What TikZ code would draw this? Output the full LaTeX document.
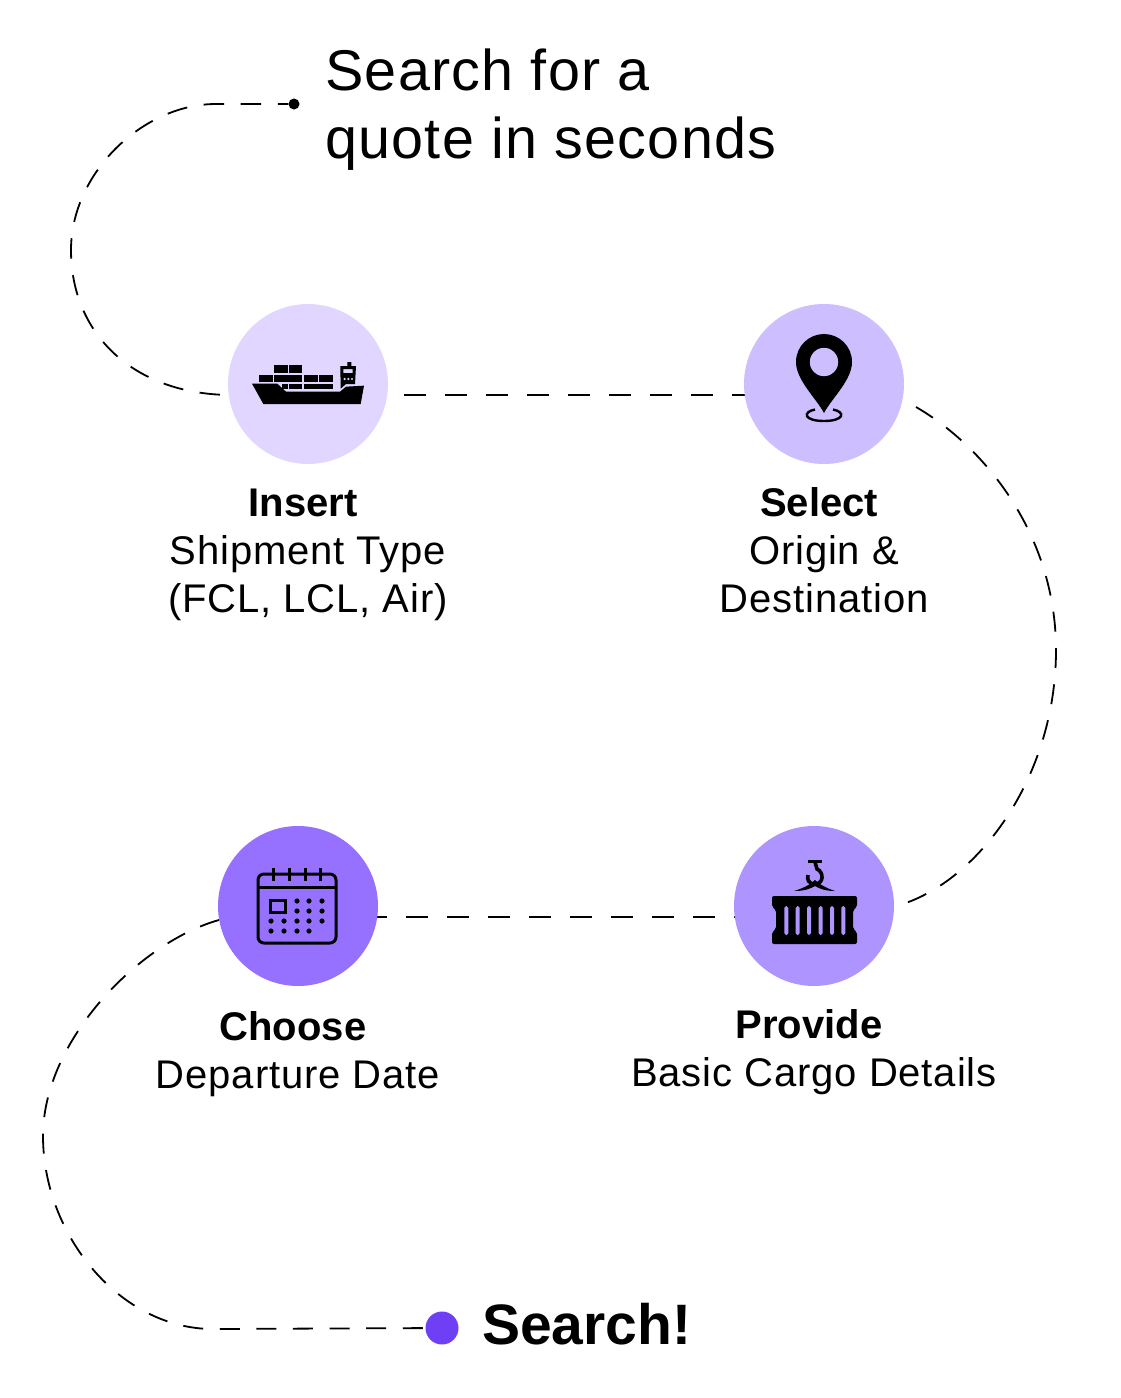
\documentclass[tikz,border=0pt]{standalone}
\usepackage{fontspec}
\setmainfont[LetterSpace=2.2,BoldFeatures={LetterSpace=0}]{Liberation Sans}
\usepackage{tikz}
\usetikzlibrary{positioning}
\definecolor{pale}{HTML}{E0D6FF}
\definecolor{soft}{HTML}{CDBEFF}
\definecolor{midv}{HTML}{AE94FF}
\definecolor{deep}{HTML}{9670FF}
\definecolor{endv}{HTML}{6F3FF5}
\tikzset{
  stepdisc/.style={circle,minimum size=160pt,inner sep=0pt},
  steptext/.style={align=center,anchor=base,font=\fontsize{40}{48}\selectfont,inner sep=0pt},
  trail/.style={line width=1.8pt,dash pattern=on 22pt off 19pt},
  curvetrail/.style={line width=1.8pt,dash pattern=on 20pt off 16.6pt},
}
\newcommand{\boldline}[1]{\textbf{#1}\hspace*{10pt}}

\begin{document}
\begin{tikzpicture}[x=1pt,y=-1pt]
    \useasboundingbox (0,0) rectangle (1120,1398);
    \node[circle,fill=black,minimum size=11pt,inner sep=0pt] (start) at (294,104) {};
    \node[circle,fill=endv,minimum size=33pt,inner sep=0pt] (finish) at (442,1328) {};
    \coordinate (insert_in)  at (232,395);
    \coordinate (insert_out) at (404,395);
    \coordinate (select_in)  at (760,395);
    \coordinate (select_out) at (916,407);
    \coordinate (provide_in) at (896,906);
    \coordinate (provide_out) at (756,917);
    \coordinate (choose_in)  at (365,917);
    \coordinate (choose_out) at (219,920);
    % trail
    \draw[curvetrail,dash pattern=on 20.5pt off 16.6pt,dash phase=10pt] (start) -- (216,104) .. controls (143,104) and (71,173) .. (71,250)
      .. controls (71,335) and (135,395) .. (insert_in);
    \draw[trail] (insert_out) -- (select_in);
    \draw[curvetrail,dash pattern=on 20pt off 16.4pt] (select_out) .. controls (985,447) and (1056,535) .. (1056,650)
      .. controls (1056,780) and (975,885) .. (provide_in);
    \draw[trail] (choose_in) -- (provide_out);
    \draw[curvetrail] (choose_out) .. controls (140,942) and (43,1040) .. (43,1136)
      .. controls (43,1235) and (120,1329) .. (213,1329) -- (finish);
    % steps
    \node[stepdisc,fill=pale] (insert)  at (308,384) {};
    \node[stepdisc,fill=soft] (select)  at (824,384) {};
    \node[stepdisc,fill=midv] (provide) at (814,906) {};
    \node[stepdisc,fill=deep] (choose)  at (298,906) {};
    % ship
    \begin{scope}[shift={(220,300)}]
      \fill (96/3,251/3) -- (172/3,251/3) -- (198/3,275/3) -- (360/3,275/3) -- (378/3,260/3) -- (432/3,257/3)
        -- (422/3,312/3) -- (130/3,312/3) -- cycle;
      \foreach \xa/\ya/\xb/\yb in {163/196/203/219,208/196/247/219,118/224/158/247,163/224/247/247,253/224/293/247,298/224/338/247,208/252/247/268,253/252/338/268,185/252/203/268}
        \fill (\xa/3,\ya/3) rectangle (\xb/3,\yb/3);
      \fill[even odd rule] (361/3,198/3) -- (382/3,198/3) -- (382/3,186/3) -- (394/3,186/3) -- (394/3,198/3) -- (408/3,198/3)
        -- (405/3,252/3) -- (378/3,252/3) -- (362/3,266/3) -- cycle
        (370/3,207/3) rectangle (398/3,219/3);
      \foreach \xa in {374,385,396}
        \fill[pale] (\xa/3,237/3) circle (1.2pt);
    \end{scope}
    % pin
    \begin{scope}[shift={(824,384)}]
      \draw[line width=2.4pt] (-9,25.5) .. controls (-22,28) and (-20,37) .. (0,37) .. controls (20,37) and (22,28) .. (9,25.5);
      \fill[even odd rule] (0,29) .. controls (-8,14) and (-28,-4) .. (-28,-22)
        .. controls (-28,-38) and (-15,-50) .. (0,-50)
        .. controls (15,-50) and (28,-38) .. (28,-22)
        .. controls (28,-4) and (8,14) .. (0,29) -- cycle
        (0,-22) circle (14.3pt);
    \end{scope}
    % calendar
    \begin{scope}[shift={(298,906)}]
      \draw[line width=3pt,rounded corners=6pt] (-40,-32) rectangle (38,37);
      \draw[line width=3pt] (-40,-19) -- (38,-19);
      \foreach \dx in {-25,-9,7,22}
        \draw[line width=3pt] (\dx,-38) -- (\dx,-25);
      \draw[line width=3pt] (-28,-6) rectangle (-13,6);
      \foreach \dx/\dy in {-1/-5,11/-5,24/-5,-1/5,11/5,24/5,-27/15,-14/15,-1/15,11/15,24/15,-27/25,-14/25,-1/25,11/25}
        \fill (\dx,\dy) circle (2.6pt);
    \end{scope}
    % container
    \begin{scope}[shift={(814,906)}]
      \fill[rounded corners=2pt] (-42,-10) -- (43,-10) -- (43,1) -- (39,4) -- (39,23) -- (43,26) -- (43,38) -- (-42,38)
        -- (-42,26) -- (-38,23) -- (-38,4) -- (-42,1) -- cycle;
      \foreach \dx in {-27.7,-16.3,-5,6.7,18,29.3}
        \fill[midv,rounded corners=1.8pt] (\dx-2,0) rectangle (\dx+2,29);
      \draw[line width=3.4pt] (-6,-44.5) -- (8,-44.5);
      \draw[line width=3.6pt] (1,-44) -- (3,-37) .. controls (10,-34) and (10,-22) .. (1,-22) .. controls (-6,-22) and (-7,-27) .. (-6,-31);
      \fill (-20,-15) .. controls (-10,-18) and (-3,-22) .. (1,-26) .. controls (5,-22) and (12,-18) .. (21,-15)
        .. controls (12,-15) and (6,-17) .. (1,-20) .. controls (-4,-17) and (-10,-15) .. (-20,-15) -- cycle;
    \end{scope}
    % texts
    \node[anchor=base west,align=left,inner sep=0pt,font=\fontsize{57.5}{68}\selectfont] (title) at (325,158) {Search for a\\quote in seconds};
    \node[steptext,yshift=-148pt] (insert_text) at (insert.south) {\boldline{Insert}\\Shipment Type\\(FCL, LCL, Air)};
    \node[steptext,yshift=-148pt] (select_text) at (select.south) {\boldline{Select}\\Origin \&\\Destination};
    \node[steptext,yshift=-100pt] (provide_text) at (provide.south) {\boldline{Provide}\\Basic Cargo Details};
    \node[steptext,yshift=-102pt] (choose_text) at (choose.south) {\boldline{Choose}\\Departure Date};
    \node[anchor=base west,inner sep=0pt,font=\fontsize{57}{68}\selectfont\bfseries] (finish_text) at (482,1344) {Search!};
  \end{tikzpicture}
\end{document}
